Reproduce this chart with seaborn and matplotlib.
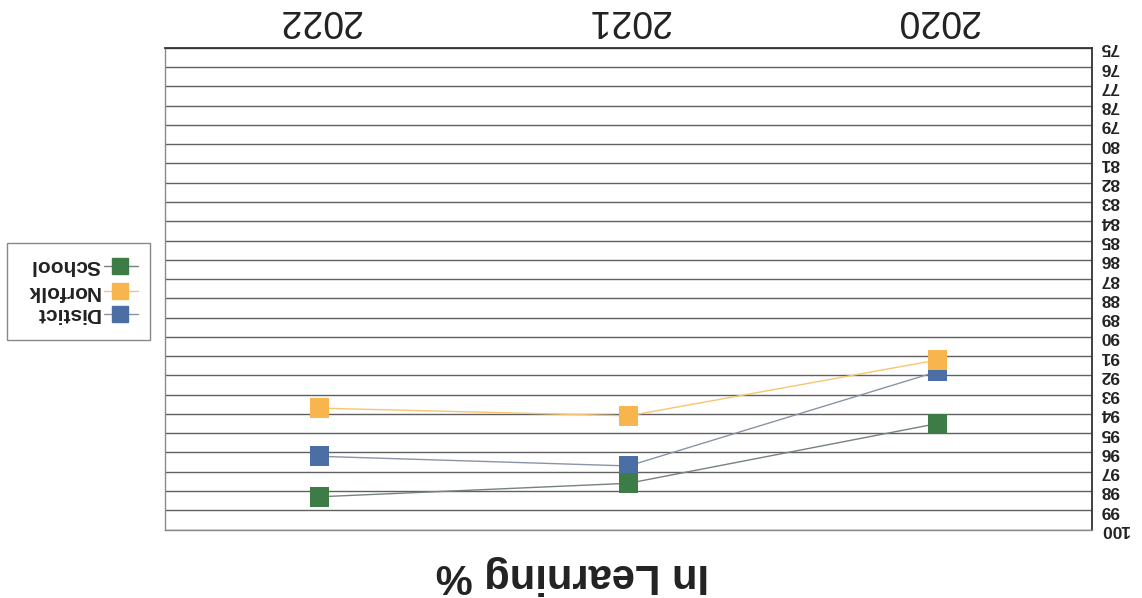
import numpy as np
import pandas as pd
import seaborn as sns
import matplotlib.pyplot as plt
from matplotlib.lines import Line2D
from matplotlib.patches import Rectangle

# --- data (the scanned chart is upside down, so it is drawn rotated 180) ---
years = [2020, 2021, 2022]
series = ['Distict', 'Norfolk', 'School']
distict = [91.8, 96.7, 96.2]
norfolk = [91.2, 94.1, 93.7]
school = [94.5, 97.6, 98.3]
y_ticks = list(range(75, 101))
title = 'In Learning %'

df = pd.DataFrame({
    'Year': years * 3,
    'Series': ['Distict'] * 3 + ['Norfolk'] * 3 + ['School'] * 3,
    'Value': distict + norfolk + school,
})

line_colors = {'Distict': '#8a93a6', 'Norfolk': '#f7c56f', 'School': '#76837a'}
marker_colors = {'Distict': '#4b6fa5', 'Norfolk': '#f8b54d', 'School': '#3d7b47'}

sns.set_style('white')
plt.rcParams['font.family'] = ['Liberation Sans', 'DejaVu Sans']

fig = plt.figure(figsize=(11.42, 5.98), dpi=100)
ax = fig.add_axes([0.1445, 0.1145, 0.8117, 0.8055])

sns.lineplot(data=df, x='Year', y='Value', hue='Series', hue_order=series,
             palette=line_colors, lw=1, legend=False, ax=ax, zorder=2)
sns.scatterplot(data=df, x='Year', y='Value', hue='Series', hue_order=series,
                palette=marker_colors, marker='s', s=200, linewidth=0,
                legend=False, ax=ax, zorder=3)

# upside-down axes
ax.set_xlim(2022.5, 2019.5)
ax.set_ylim(100, 75)
ax.set_xticks(years)
ax.set_yticks(y_ticks)
ax.xaxis.tick_top()
ax.yaxis.tick_right()
ax.tick_params(axis='x', labelsize=27, labelrotation=180, length=0, pad=7, colors='#222222')
ax.tick_params(axis='y', labelsize=12.5, labelrotation=180, length=0, pad=6, colors='#222222')
for t in ax.get_yticklabels():
    t.set_fontweight('bold')
    t.set_verticalalignment('center')
ax.set_axisbelow(True)
ax.grid(axis='y', color='#606060', lw=1)
ax.grid(axis='x', visible=False)
ax.set_xlabel('')
ax.set_ylabel('')
for s in ['right', 'top']:
    ax.spines[s].set_color('#333333')
    ax.spines[s].set_linewidth(1.3)
for s in ['left', 'bottom']:
    ax.spines[s].set_color('#8a8a8a')
    ax.spines[s].set_linewidth(1)

# title (at the bottom, rotated)
fig.text(0.501, 0.038, title, rotation=180, ha='center', va='center',
         fontsize=30, weight='bold', color='#222222')

# legend drawn by hand so the text can be upside down
W, H = 1142, 598
fig.add_artist(Rectangle((7 / W, 1 - 340 / H), 143 / W, 97 / H, transform=fig.transFigure,
                         facecolor='white', edgecolor='#888888', lw=1))
for name, ypx in zip(series, [314, 291, 266]):
    y = 1 - ypx / H
    fig.add_artist(Line2D([104 / W, 138 / W], [y, y], color=line_colors[name], lw=1,
                          transform=fig.transFigure))
    fig.add_artist(Line2D([120 / W], [y], marker='s', ms=11, mfc=marker_colors[name],
                          mec=marker_colors[name], ls='none', transform=fig.transFigure))
    fig.text(100 / W, y, name, rotation=180, ha='right', va='center',
             fontsize=15, weight='bold', color='#222222')

fig.savefig('out.png', dpi=100)
